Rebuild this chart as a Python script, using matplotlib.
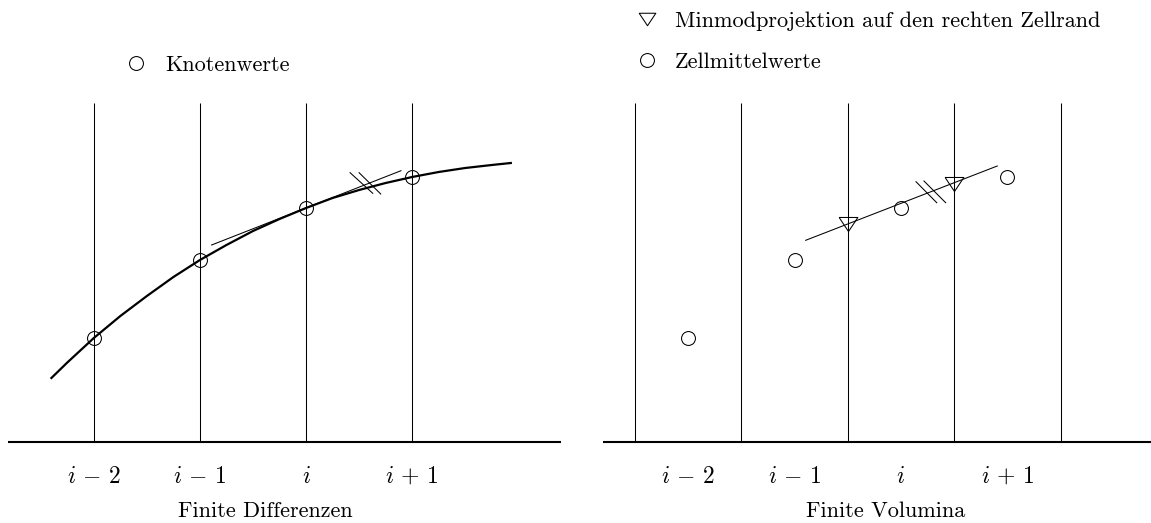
import matplotlib.pyplot as plt
from matplotlib.lines import Line2D

plt.rcParams['font.family'] = 'cmr10'
plt.rcParams['mathtext.fontset'] = 'cm'
plt.rcParams['axes.unicode_minus'] = False

# index labels and the values at the nodes / cell means
labels = [r'$i\,-\,2$', r'$i\,-\,1$', r'$i$', r'$i\,+\,1$']
nodes = [-2, -1, 0, 1]
values = [1.04, 1.82, 2.34, 2.65]

# the smooth function
curve_x = [-2.40, -2.25, -2.00, -1.75, -1.50, -1.25, -1.00, -0.75, -0.50, -0.25,
           0.00, 0.25, 0.50, 0.75, 1.00, 1.25, 1.50, 1.75, 1.93]
curve_y = [0.64, 0.795, 1.04, 1.26, 1.46, 1.65, 1.82, 1.97, 2.11, 2.23,
           2.34, 2.44, 2.52, 2.59, 2.65, 2.70, 2.74, 2.77, 2.79]

# central difference slope through node i
tan_x = [-0.89, 0.895]
tan_y = [1.97, 2.713]
fd_tick1_x = [0.415, 0.629]
fd_tick1_y = [2.693, 2.487]
fd_tick2_x = [0.500, 0.704]
fd_tick2_y = [2.693, 2.480]

# finite volume: cell edges, reconstruction in cell i, minmod projections
edges = [-2.5, -1.5, -0.5, 0.5, 1.5]
recon_x = [-0.896, 0.905]
recon_y = [2.017, 2.76]
proj_x = [-0.5, 0.5]
proj_y = [2.18, 2.58]
fv_tick1_x = [0.141, 0.336]
fv_tick1_y = [2.603, 2.393]
fv_tick2_x = [0.216, 0.420]
fv_tick2_y = [2.61, 2.393]

top = 3.39
W, H = 1151, 523
tri = [(-1, 0.75), (1, 0.75), (0, -0.75), (-1, 0.75)]
lw_thin = 0.75

fig = plt.figure(figsize=(W/100, H/100), dpi=100)

# ---- Finite Differenzen
ax1 = fig.add_axes([8/W, 0, 553/W, 1])
ax1.set_xlim(-2.809, 2.403)
ax1.set_ylim(-0.81, 4.42)
ax1.axis('off')
ax1.axhline(0, color='k', lw=1.5)
ax1.vlines(nodes, 0, top, color='k', lw=lw_thin)
ax1.plot(curve_x, curve_y, color='k', lw=1.6)
ax1.plot(tan_x, tan_y, color='k', lw=lw_thin)
ax1.plot(fd_tick1_x, fd_tick1_y, color='k', lw=lw_thin)
ax1.plot(fd_tick2_x, fd_tick2_y, color='k', lw=lw_thin)
ax1.plot(nodes, values, ls='none', marker='o', ms=10, mfc='none', mec='k', mew=lw_thin)
for x, lab in zip(nodes, labels):
    ax1.text(x, -0.41, lab, ha='center', va='baseline', fontsize=17)
ax1.text(-0.38, -0.75, 'Finite Differenzen', ha='center', va='baseline', fontsize=16)

h_circ = Line2D([], [], ls='none', marker='o', ms=10, mfc='none', mec='k', mew=lw_thin)
h_tri = Line2D([], [], ls='none', marker=tri, ms=12, mfc='none', mec='k', mew=lw_thin)

leg1 = fig.legend([h_circ], ['Knotenwerte'], loc='upper left',
                  bbox_to_anchor=(124.7/W, 1 - 55/H), frameon=False, fontsize=16,
                  handlelength=1.0, handletextpad=0.83, borderpad=0, borderaxespad=0)

# ---- Finite Volumina
ax2 = fig.add_axes([603/W, 0, 548/W, 1])
ax2.set_xlim(-2.801, 2.350)
ax2.set_ylim(-0.81, 4.42)
ax2.axis('off')
ax2.axhline(0, color='k', lw=1.5)
ax2.vlines(edges, 0, top, color='k', lw=lw_thin)
ax2.plot(recon_x, recon_y, color='k', lw=lw_thin)
ax2.plot(fv_tick1_x, fv_tick1_y, color='k', lw=lw_thin)
ax2.plot(fv_tick2_x, fv_tick2_y, color='k', lw=lw_thin)
ax2.plot(nodes, values, ls='none', marker='o', ms=10, mfc='none', mec='k', mew=lw_thin)
ax2.plot(proj_x, proj_y, ls='none', marker=tri, ms=13.5, mfc='none', mec='k', mew=lw_thin)
for x, lab in zip(nodes, labels):
    ax2.text(x, -0.41, lab, ha='center', va='baseline', fontsize=17)
ax2.text(-0.14, -0.75, 'Finite Volumina', ha='center', va='baseline', fontsize=16)

leg2 = fig.legend([h_tri, h_circ],
                  ['Minmodprojektion auf den rechten Zellrand', 'Zellmittelwerte'],
                  loc='upper left', bbox_to_anchor=(635.7/W, 1 - 11/H), frameon=False,
                  fontsize=16, handlelength=1.0, handletextpad=0.78, borderpad=0,
                  borderaxespad=0, labelspacing=0.98)

fig.savefig('out.png', dpi=100)
